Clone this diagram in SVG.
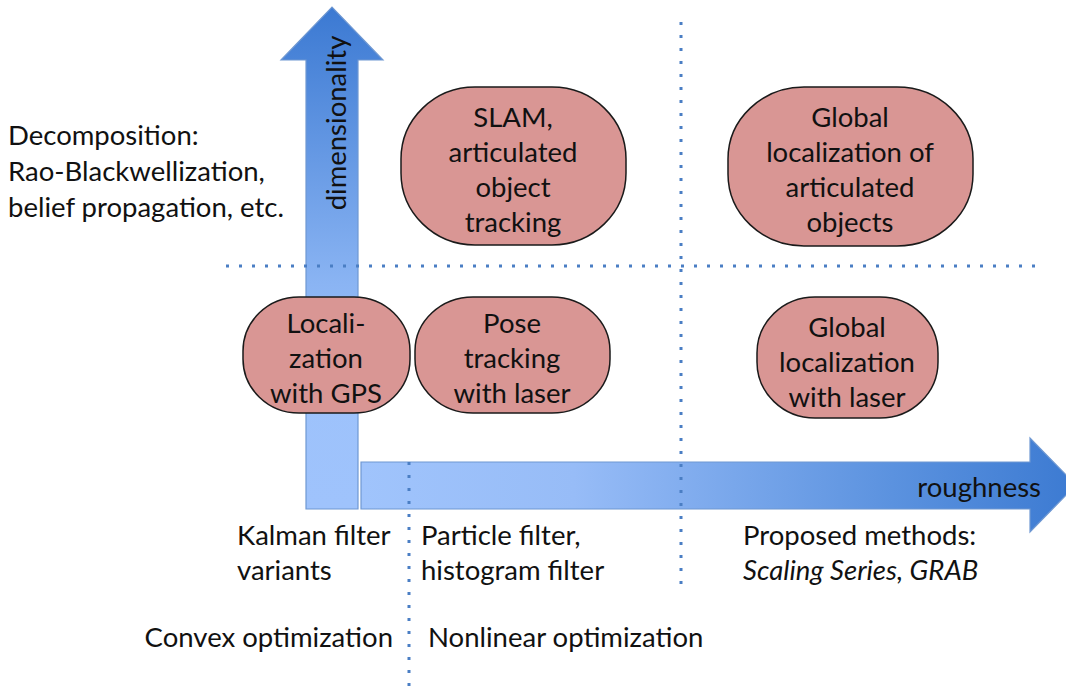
<svg xmlns="http://www.w3.org/2000/svg" width="1066" height="688" viewBox="0 0 1066 688">
  <style>
    text { font-family: Lato, "Open Sans", "Liberation Sans", sans-serif; font-size: 27.5px; fill: #111; }
    .node-shape { fill: #d99694; stroke: #1a1a1a; stroke-width: 1.5; }
    .mid { text-anchor: middle; }
    .dots { fill: none; stroke: #4a7ec4; stroke-width: 3; stroke-dasharray: 3 10; }
    .edge { stroke: #6f98d2; stroke-width: 1.2; }
  </style>
  <defs>
    <linearGradient id="gradUp" x1="0" y1="7" x2="0" y2="509" gradientUnits="userSpaceOnUse">
      <stop offset="0" stop-color="#3b79d2"/>
      <stop offset="0.55" stop-color="#8ab4f3"/>
      <stop offset="0.75" stop-color="#9dc2fb"/>
      <stop offset="1" stop-color="#9fc3fc"/>
    </linearGradient>
    <linearGradient id="gradRight" x1="361" y1="0" x2="1070" y2="0" gradientUnits="userSpaceOnUse">
      <stop offset="0" stop-color="#a0c4fc"/>
      <stop offset="0.3" stop-color="#97bcf7"/>
      <stop offset="0.75" stop-color="#5b92df"/>
      <stop offset="1" stop-color="#3d7bd2"/>
    </linearGradient>
  </defs>

  <!-- axes -->
  <g id="axes">
    <path class="edge" d="M306,509 L306,60 L281,60 L332,7 L383,60 L358,60 L358,509 Z" fill="url(#gradUp)"/>
    <path class="edge" d="M361,509 L361,462 L1030,462 L1030,438 L1076,485 L1030,532 L1030,509 Z" fill="url(#gradRight)"/>
    <text transform="translate(346,123) rotate(-90)" class="mid">dimensionality</text>
    <text x="1041" y="497" text-anchor="end">roughness</text>
  </g>

  <!-- region separators -->
  <g id="connectors">
    <line class="dots" x1="681" y1="22" x2="681" y2="588"/>
    <line class="dots" x1="409" y1="462" x2="409" y2="688"/>
    <line class="dots" x1="226" y1="266" x2="1042" y2="266"/>
  </g>

  <!-- side labels -->
  <g id="decomposition">
    <text x="8" y="145">Decomposition:</text>
    <text x="8" y="181">Rao-Blackwellization,</text>
    <text x="8" y="217">belief propagation, etc.</text>
  </g>
  <g id="kalman">
    <text x="237" y="545">Kalman filter</text>
    <text x="237" y="580">variants</text>
  </g>
  <g id="particle">
    <text x="421" y="545">Particle filter,</text>
    <text x="421" y="580">histogram filter</text>
  </g>
  <g id="proposed">
    <text x="743" y="545">Proposed methods:</text>
    <text x="743" y="580" font-style="italic">Scaling Series, GRAB</text>
  </g>
  <g id="convex">
    <text x="393" y="647" text-anchor="end">Convex optimization</text>
  </g>
  <g id="nonlinear">
    <text x="428" y="647">Nonlinear optimization</text>
  </g>

  <!-- problem nodes -->
  <g id="node-slam">
    <rect class="node-shape" x="401" y="87" width="225" height="158" rx="74" ry="72"/>
    <text class="mid" x="513" y="127">SLAM,</text>
    <text class="mid" x="513" y="162">articulated</text>
    <text class="mid" x="513" y="197">object</text>
    <text class="mid" x="513" y="232">tracking</text>
  </g>
  <g id="node-global-articulated">
    <rect class="node-shape" x="728" y="87" width="245" height="159" rx="76" ry="72"/>
    <text class="mid" x="850" y="127">Global</text>
    <text class="mid" x="850" y="162">localization of</text>
    <text class="mid" x="850" y="197">articulated</text>
    <text class="mid" x="850" y="232">objects</text>
  </g>
  <g id="node-gps">
    <rect class="node-shape" x="243" y="297" width="167" height="116" rx="56" ry="54"/>
    <text class="mid" x="326" y="333">Locali-</text>
    <text class="mid" x="326" y="368">zation</text>
    <text class="mid" x="326" y="403">with GPS</text>
  </g>
  <g id="node-pose">
    <rect class="node-shape" x="415" y="297" width="195" height="116" rx="58" ry="54"/>
    <text class="mid" x="512" y="333">Pose</text>
    <text class="mid" x="512" y="368">tracking</text>
    <text class="mid" x="512" y="403">with laser</text>
  </g>
  <g id="node-global-laser">
    <rect class="node-shape" x="757" y="297" width="181" height="121" rx="58" ry="56"/>
    <text class="mid" x="847" y="337">Global</text>
    <text class="mid" x="847" y="372">localization</text>
    <text class="mid" x="847" y="407">with laser</text>
  </g>
</svg>
